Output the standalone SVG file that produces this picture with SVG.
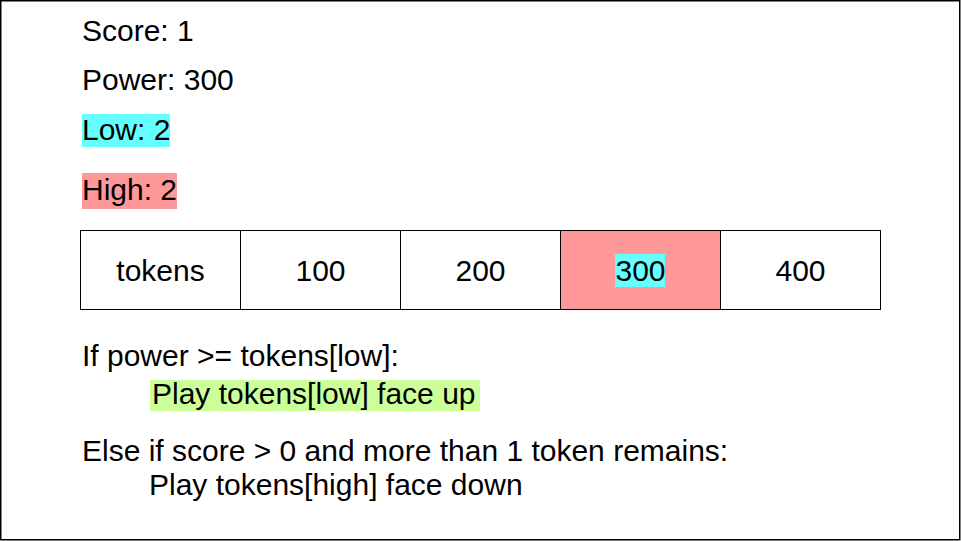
<svg xmlns="http://www.w3.org/2000/svg" width="961" height="541" viewBox="0 0 961 541">
<style>
text{font-family:"Liberation Sans",Arial,sans-serif;font-size:30px;fill:#000}
.c{text-anchor:middle}
.cell{fill:#fff;stroke:#000;stroke-width:1}
</style>
<rect x="0" y="0" width="961" height="541" fill="#fff"/>
<rect x="0.75" y="0.75" width="959" height="539" fill="none" stroke="#000" stroke-width="1.5"/>
<g id="score"><text x="82" y="41">Score: 1</text></g>
<g id="power"><text x="82" y="90">Power: 300</text></g>
<g id="low"><rect x="82" y="114" width="88" height="33" fill="#66ffff"/><text x="82" y="140">Low: 2</text></g>
<g id="high"><rect x="82" y="173" width="95" height="36" fill="#ff9999"/><text x="82" y="200">High: 2</text></g>
<g id="table">
<g id="cell-label"><rect class="cell" x="80.5" y="230.5" width="160" height="79"/><text class="c" x="160.5" y="281">tokens</text></g>
<g id="cell-100"><rect class="cell" x="240.5" y="230.5" width="160" height="79"/><text class="c" x="320.5" y="281">100</text></g>
<g id="cell-200"><rect class="cell" x="400.5" y="230.5" width="160" height="79"/><text class="c" x="480.5" y="281">200</text></g>
<g id="cell-300"><rect class="cell" x="560.5" y="230.5" width="160" height="79" style="fill:#ff9999"/><rect x="615" y="254" width="50" height="33" fill="#66ffff"/><text class="c" x="640.5" y="281">300</text></g>
<g id="cell-400"><rect class="cell" x="720.5" y="230.5" width="160" height="79"/><text class="c" x="800.5" y="281">400</text></g>
</g>
<g id="code">
<text x="82" y="366">If power &gt;= tokens[low]:</text>
<rect x="150" y="380" width="330" height="31" fill="#ccff99"/>
<text x="152" y="404">Play tokens[low] face up</text>
<text x="82" y="461">Else if score &gt; 0 and more than 1 token remains:</text>
<text x="149" y="495">Play tokens[high] face down</text>
</g>
<g id="connectors"></g>
</svg>
